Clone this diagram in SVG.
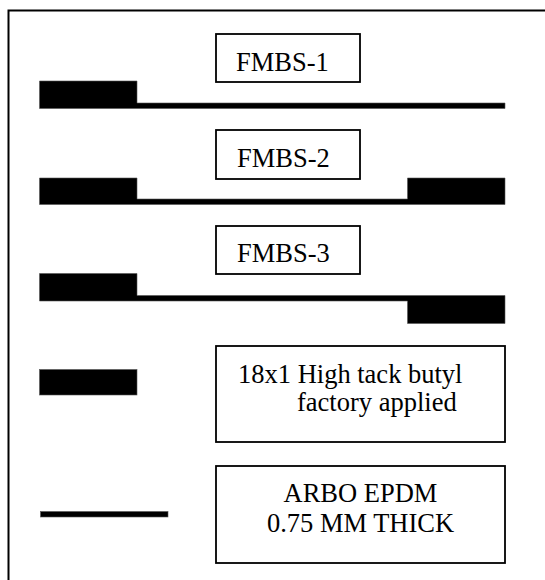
<svg xmlns="http://www.w3.org/2000/svg" width="545" height="580" viewBox="0 0 545 580">
<style>
.box{fill:#fff;stroke:#000;stroke-width:1.8}
.lbl{font-family:'Liberation Serif','DejaVu Serif',serif;font-size:26.5px;fill:#000}
.blk{fill:#000;stroke:#555;stroke-width:0.6}
</style>
<rect width="545" height="580" fill="#fff"/>
<g id="frame"><path d="M8.5 600 V10.5 H600" fill="none" stroke="#000" stroke-width="2"/></g>
<g id="fmbs1">
<rect class="box" x="216" y="34" width="144" height="48"/>
<text class="lbl" font-family="Liberation Serif, serif" x="236" y="71">FMBS-1</text>
<path class="blk" d="M39.5 81 H137 V103 H505 V108.5 H39.5 Z"/>
</g>
<g id="fmbs2">
<rect class="box" x="216" y="130" width="144" height="49"/>
<text class="lbl" font-family="Liberation Serif, serif" x="237" y="167">FMBS-2</text>
<path class="blk" d="M39.5 178 H137 V199 H407.5 V178 H505 V204.5 H39.5 Z"/>
</g>
<g id="fmbs3">
<rect class="box" x="216" y="226" width="144" height="48"/>
<text class="lbl" font-family="Liberation Serif, serif" x="237" y="262">FMBS-3</text>
<path class="blk" d="M39.5 273.5 H137 V295.5 H505 V323.5 H407.5 V301 H39.5 Z"/>
</g>
<g id="legend-butyl">
<rect class="blk" x="39.5" y="369.5" width="97.5" height="25.5"/>
<rect class="box" x="216" y="346" width="289" height="96"/>
<text class="lbl" font-family="Liberation Serif, serif" x="238" y="383">18x1 High tack butyl</text>
<text class="lbl" font-family="Liberation Serif, serif" x="297" y="411">factory applied</text>
</g>
<g id="legend-epdm">
<rect class="blk" x="40.5" y="511.5" width="127.5" height="5.5"/>
<rect class="box" x="216" y="466" width="289" height="97"/>
<text class="lbl" font-family="Liberation Serif, serif" x="360.5" y="502" text-anchor="middle">ARBO EPDM</text>
<text class="lbl" font-family="Liberation Serif, serif" x="360.5" y="532" text-anchor="middle">0.75 MM THICK</text>
</g>
<g id="connectors"></g>
</svg>
